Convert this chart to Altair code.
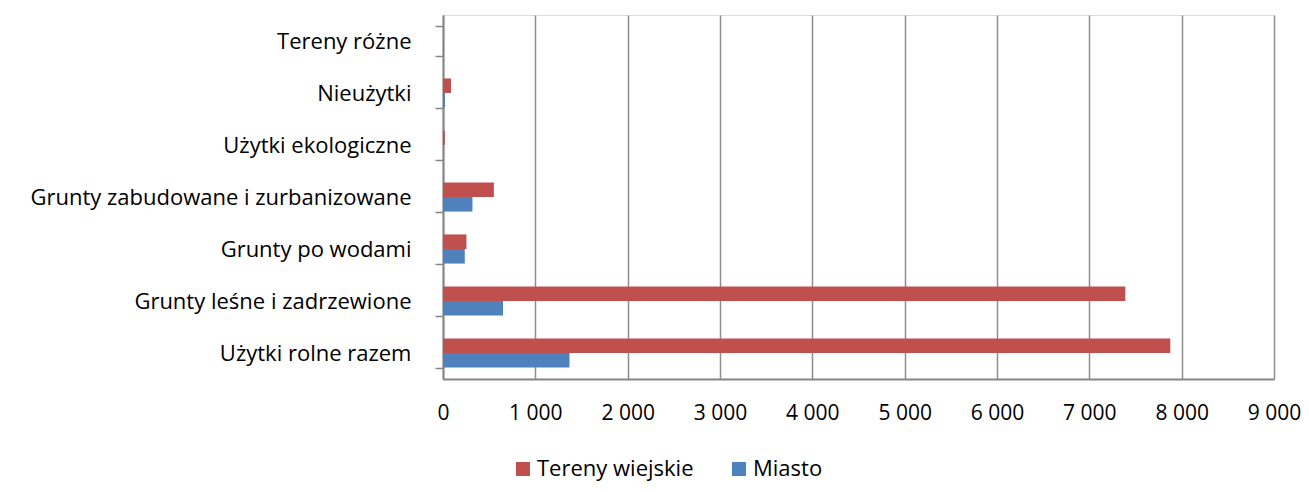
import altair as alt
import pandas as pd

categories = [
    "Tereny różne",
    "Nieużytki",
    "Użytki ekologiczne",
    "Grunty zabudowane i zurbanizowane",
    "Grunty po wodami",
    "Grunty leśne i zadrzewione",
    "Użytki rolne razem",
]
series = ["Tereny wiejskie", "Miasto"]
wiejskie = [0, 87, 20, 551, 254, 7390, 7877]
miasto = [3, 22, 0, 319, 236, 650, 1370]
x_ticks = [0, 1000, 2000, 3000, 4000, 5000, 6000, 7000, 8000, 9000]
colors = ["#C0504D", "#4F81BD"]

rows = []
for c, w, m in zip(categories, wiejskie, miasto):
    rows.append({"kategoria": c, "seria": series[0], "wartosc": w})
    rows.append({"kategoria": c, "seria": series[1], "wartosc": m})
df = pd.DataFrame(rows)

FONT = "Open Sans"
FS = 22

chart = (
    alt.Chart(df)
    .mark_bar()
    .encode(
        y=alt.Y(
            "kategoria:N",
            sort=categories,
            title=None,
            scale=alt.Scale(paddingInner=0.44, paddingOuter=0.22),
            axis=alt.Axis(
                tickBand="extent",
                tickSize=8,
                tickColor="#868686",
                tickWidth=1.5,
                domainColor="#868686",
                domainWidth=2,
                labelPadding=24,
                labelFont=FONT,
                labelFontSize=FS,
                labelColor="#000000",
                labelLimit=600,
                grid=False,
            ),
        ),
        yOffset=alt.YOffset("seria:N", sort=series, scale=alt.Scale(paddingInner=0, paddingOuter=0)),
        x=alt.X(
            "wartosc:Q",
            title=None,
            scale=alt.Scale(domain=[0, 9000], nice=False),
            axis=alt.Axis(
                values=x_ticks,
                labelExpr="replace(format(datum.value, ',d'), ',', ' ')",
                labelFlush=False,
                labelOverlap=False,
                grid=True,
                gridColor="#8e8e8e",
                gridWidth=1.5,
                domainColor="#868686",
                domainWidth=2,
                ticks=False,
                labelPadding=23,
                labelFont=FONT,
                labelFontSize=21,
                labelColor="#000000",
            ),
        ),
        color=alt.Color(
            "seria:N",
            sort=series,
            scale=alt.Scale(domain=series, range=colors),
            legend=alt.Legend(
                title=None,
                orient="none",
                direction="horizontal",
                legendX=69,
                legendY=443,
                symbolType="square",
                symbolSize=196,
                symbolStrokeWidth=0,
                labelFont=FONT,
                labelFontSize=FS,
                labelColor="#000000",
                columnPadding=34,
                labelOffset=3,
            ),
        ),
    )
    .properties(
        width=831,
        height=364,
        autosize=alt.AutoSizeParams(type="none"),
        padding={"left": 435, "top": 7, "right": 27, "bottom": 105},
    )
    .configure_view(stroke=None)
    .configure(background="white")
)

chart.save("out.html", embed_options={"renderer": "svg", "actions": False})
